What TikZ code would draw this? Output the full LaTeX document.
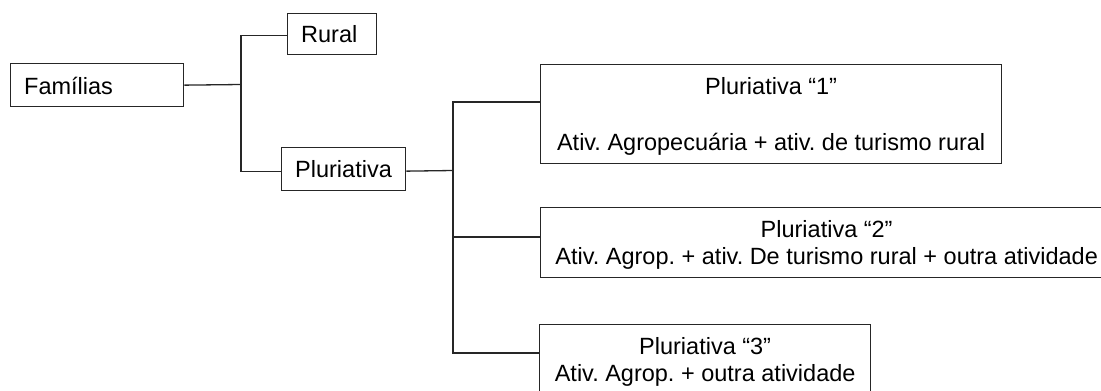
\documentclass[tikz,border=0pt]{standalone}
\usepackage{fontspec}
\setmainfont{Liberation Sans}
\usetikzlibrary{calc}
\frenchspacing
\begin{document}
\begin{tikzpicture}[x=1pt,y=-1pt,
  box/.style={draw=black!85, line width=1.3pt, rectangle, inner sep=0pt, anchor=north west},
  txt/.style={font=\fontsize{23.5pt}{27pt}\selectfont\frenchspacing, inner sep=0pt, text=black},
  conn/.style={draw=black!85, line width=1.3pt}]
\useasboundingbox (0,0) rectangle (1101,391);
\clip (0,0) rectangle (1101,391);
% boxes
\node[box, minimum width=173pt, minimum height=43pt] (fam) at (10,63) {};
\node[txt, anchor=base west] (famt) at ($(fam.north west)+(14,31.3)$) {Famílias};
\node[box, minimum width=89pt, minimum height=41pt] (rural) at (287,13) {};
\node[txt, anchor=base west] (ruralt) at ($(rural.north west)+(14,29.3)$) {Rural};
\node[box, minimum width=124pt, minimum height=43pt] (plu) at (281,147) {};
\node[txt, anchor=base west] (plut) at ($(plu.north west)+(14,30.7)$) {Pluriativa};
\node[box, minimum width=461pt, minimum height=99pt] (p1) at (540,64) {};
\node[txt, anchor=base] (p1a) at ($(p1.north)+(0,30)$) {Pluriativa “1”};
\node[txt, anchor=base] (p1b) at ($(p1.north)+(0,86)$) {Ativ. Agropecuária + ativ. de turismo rural};
\node[box, minimum width=572pt, minimum height=70pt] (p2) at (540,207) {};
\node[txt, anchor=base] (p2a) at ($(p2.north)+(0,30)$) {Pluriativa “2”};
\node[txt, anchor=base] (p2b) at ($(p2.north)+(0,57)$) {Ativ. Agrop. + ativ. De turismo rural + outra atividade};
\node[box, minimum width=331pt, minimum height=70pt] (p3) at (539,324) {};
\node[txt, anchor=base] (p3a) at ($(p3.north)+(0,30)$) {Pluriativa “3”};
\node[txt, anchor=base] (p3b) at ($(p3.north)+(0,57)$) {Ativ. Agrop. + outra atividade};
% connectors
\coordinate (j1) at (241,84.5);
\coordinate (j2) at (453,170.5);
\draw[conn] (fam.east) -- (j1);
\draw[conn] ($(rural.west)+(0,1.5)$) -| (j1) |- ($(plu.west)+(0,2)$);
\draw[conn] ($(plu.east)+(0,2)$) -- (j2);
\draw[conn] ($(p1.north west)+(0,38)$) -| (j2) |- ($(p3.north west)+(0,29)$);
\coordinate (p2in) at ($(p2.north west)+(0,30)$);
\draw[conn] (p2in) -- (p2in -| j2);
\end{tikzpicture}
\end{document}
